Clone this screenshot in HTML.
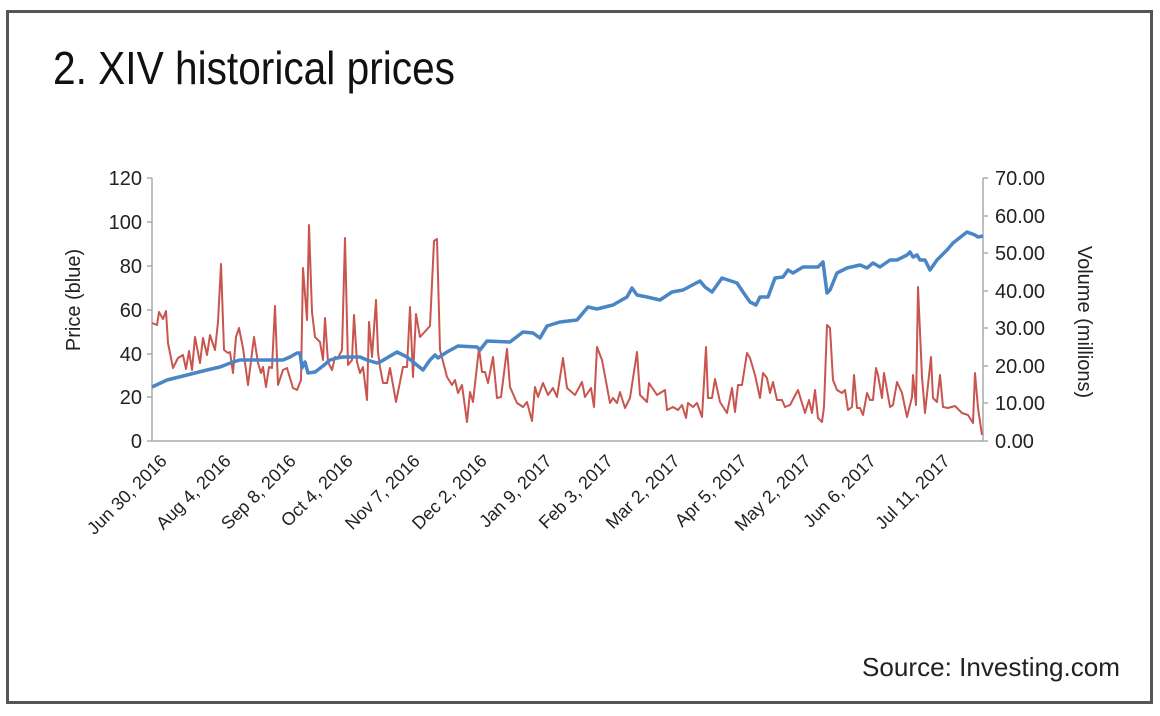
<!DOCTYPE html>
<html><head><meta charset="utf-8"><style>
html,body{margin:0;padding:0;background:#fff;}
svg{display:block;font-family:"Liberation Sans",sans-serif;}
</style></head><body>
<svg width="1160" height="716" viewBox="0 0 1160 716">
<rect x="0" y="0" width="1160" height="716" fill="#fff"/>
<rect x="7.5" y="11.5" width="1144" height="691" fill="none" stroke="#555" stroke-width="3"/>
<text x="53" y="84" font-size="46" textLength="402" lengthAdjust="spacingAndGlyphs" fill="#111">2. XIV historical prices</text>
<text x="862" y="676" font-size="26" textLength="258" lengthAdjust="spacingAndGlyphs" fill="#222">Source: Investing.com</text>

<g stroke="#aaa" stroke-width="1.5" fill="none">
<line x1="152" y1="178" x2="152" y2="441"/>
<line x1="983" y1="178" x2="983" y2="441"/>
<line x1="152" y1="441" x2="983" y2="441"/>
<line x1="147" y1="178" x2="152" y2="178"/><line x1="147" y1="222" x2="152" y2="222"/><line x1="147" y1="266" x2="152" y2="266"/><line x1="147" y1="310" x2="152" y2="310"/><line x1="147" y1="354" x2="152" y2="354"/><line x1="147" y1="397" x2="152" y2="397"/><line x1="147" y1="441" x2="152" y2="441"/>
<line x1="983" y1="178" x2="988" y2="178"/><line x1="983" y1="216" x2="988" y2="216"/><line x1="983" y1="253" x2="988" y2="253"/><line x1="983" y1="291" x2="988" y2="291"/><line x1="983" y1="328" x2="988" y2="328"/><line x1="983" y1="366" x2="988" y2="366"/><line x1="983" y1="403" x2="988" y2="403"/><line x1="983" y1="441" x2="988" y2="441"/>
</g>
<g font-size="20" fill="#222" text-anchor="end">
<text x="142" y="185">120</text><text x="142" y="229">100</text><text x="142" y="273">80</text><text x="142" y="317">60</text><text x="142" y="361">40</text><text x="142" y="404">20</text><text x="142" y="448">0</text>
</g>
<g font-size="20" fill="#222" text-anchor="start">
<text x="995" y="185">70.00</text><text x="995" y="223">60.00</text><text x="995" y="260">50.00</text><text x="995" y="298">40.00</text><text x="995" y="335">30.00</text><text x="995" y="373">20.00</text><text x="995" y="410">10.00</text><text x="995" y="448">0.00</text>
</g>
<text transform="translate(80,300) rotate(-90)" font-size="20" fill="#222" text-anchor="middle">Price (blue)</text>
<text transform="translate(1078,322) rotate(90)" font-size="20" fill="#222" text-anchor="middle">Volume (millions)</text>
<g font-size="18" fill="#222" text-anchor="end">
<text transform="translate(168,462) rotate(-45)">Jun 30, 2016</text>
<text transform="translate(232,462) rotate(-45)">Aug 4, 2016</text>
<text transform="translate(297,462) rotate(-45)">Sep 8, 2016</text>
<text transform="translate(354,462) rotate(-45)">Oct 4, 2016</text>
<text transform="translate(421,462) rotate(-45)">Nov 7, 2016</text>
<text transform="translate(488,462) rotate(-45)">Dec 2, 2016</text>
<text transform="translate(553,462) rotate(-45)">Jan 9, 2017</text>
<text transform="translate(614,462) rotate(-45)">Feb 3, 2017</text>
<text transform="translate(681,462) rotate(-45)">Mar 2, 2017</text>
<text transform="translate(748,462) rotate(-45)">Apr 5, 2017</text>
<text transform="translate(812,462) rotate(-45)">May 2, 2017</text>
<text transform="translate(877,462) rotate(-45)">Jun 6, 2017</text>
<text transform="translate(951,462) rotate(-45)">Jul 11, 2017</text>
</g>

<polyline fill="none" stroke="#c9554f" stroke-width="2" stroke-linejoin="round" points="152,323 157,325 159,312 163,319 166,311 168,343 173,368 178,358 183,355 186,369 189,351 192,370 195,337 200,363 203,338 207,355 210,335 215,350 218,322 221,264 224,350 228,353 230,352 233,373 236,337 239,328 243,348 248,385 254,337 258,363 261,373 263,367 266,387 269,367 272,368 275,306 278,385 283,370 287,368 293,388 297,390 301,380 303,268 307,320 309,225 312,312 315,337 320,342 323,360 325,318 328,362 332,370 335,357 338,358 342,350 345,238 348,365 352,360 354,315 357,362 360,373 363,367 367,400 369,322 372,357 376,300 378,352 380,367 383,383 387,383 390,368 396,402 403,367 407,367 410,307 413,377 416,314 420,337 430,326 434,241 437,239 440,350 447,377 452,385 455,380 458,393 462,385 467,422 470,392 473,402 479,348 482,372 485,372 488,383 493,357 497,398 501,397 507,349 510,387 517,403 523,407 527,402 532,421 535,387 538,397 543,383 548,395 553,388 557,397 563,358 567,388 575,395 582,382 585,397 591,388 594,407 597,347 602,360 610,403 613,398 617,403 620,392 625,408 630,398 637,352 640,395 647,402 649,383 657,395 665,390 667,410 673,407 678,410 682,405 686,418 688,403 693,407 697,403 702,417 706,347 708,398 712,398 715,379 720,402 727,413 732,388 735,412 738,385 742,385 747,353 750,358 755,375 760,398 763,373 767,378 770,393 773,382 777,400 782,400 785,407 790,405 798,390 805,413 809,400 812,413 815,390 818,418 822,422 824,407 827,325 830,328 833,380 837,390 842,393 845,390 848,410 852,407 854,375 857,408 860,408 863,415 867,393 870,400 873,400 876,368 878,375 882,398 884,373 890,407 893,405 897,382 902,393 907,417 912,397 913,375 916,405 918,287 922,377 925,413 931,357 933,398 937,402 940,375 943,407 948,408 955,406 962,413 968,415 973,423 975,373 978,408 982,435"/>

<polyline fill="none" stroke="#4a86c5" stroke-width="3.5" stroke-linejoin="round" points="152,387 167,380 187,375 207,370 220,367 233,362 240,360 267,360 283,360 290,357 297,353 300,353 302,368 305,362 308,373 315,372 323,366 330,360 337,358 343,357 360,357 367,360 377,363 380,362 397,352 407,357 423,370 430,360 435,355 438,358 447,352 458,346 477,347 480,350 487,341 510,342 523,332 533,333 540,338 547,326 560,322 577,320 588,307 597,309 613,305 627,297 632,288 637,295 647,297 660,300 672,292 683,290 700,281 705,287 712,292 722,278 737,283 743,292 750,302 756,305 760,297 768,297 775,278 783,277 788,270 793,273 803,267 818,267 823,262 827,293 830,290 837,273 847,268 860,265 867,268 873,263 880,267 890,260 897,260 907,255 910,252 913,257 917,255 920,260 925,260 930,270 937,260 947,250 953,243 967,232 975,235 978,237 983,236"/>
</svg>
</body></html>
